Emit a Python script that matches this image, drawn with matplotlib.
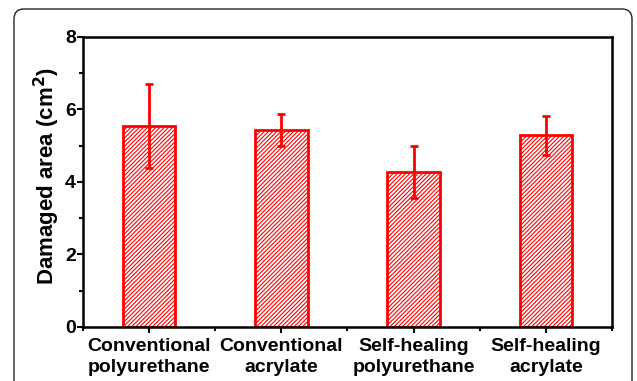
import matplotlib.pyplot as plt
import matplotlib.transforms as mtransforms
from matplotlib.patches import FancyBboxPatch
from matplotlib.ticker import MultipleLocator, FixedLocator

plt.rcParams['font.family'] = ['Liberation Sans', 'DejaVu Sans']
plt.rcParams['font.weight'] = 'bold'
plt.rcParams['hatch.linewidth'] = 0.8

# Damaged area for each coating (mean and standard deviation)
coatings = ["Conventional\npolyurethane", "Conventional\nacrylate",
            "Self-healing\npolyurethane", "Self-healing\nacrylate"]
damaged_area = [5.54, 5.43, 4.27, 5.29]
damaged_err = [1.15, 0.44, 0.71, 0.54]

fig = plt.figure(figsize=(6.37, 3.81), dpi=100)
ax = fig.add_axes([0.130, 0.142, 0.831, 0.761])

pos = list(range(1, len(coatings) + 1))
ax.bar(pos, damaged_area, width=0.4, facecolor='white', edgecolor='red',
       hatch='////////', linewidth=2, zorder=2)
ax.errorbar(pos, damaged_area, yerr=damaged_err, fmt='none', ecolor='red',
            elinewidth=2, capsize=3, capthick=2, zorder=3)

ax.set_xlim(0.5, 4.5)
ax.set_ylim(0, 8)
ax.set_xticks(pos)
ax.set_xticklabels(coatings, fontsize=14, fontweight='bold', linespacing=1.3)
ax.xaxis.set_minor_locator(FixedLocator([0.5, 1.5, 2.5, 3.5, 4.5]))
ax.yaxis.set_major_locator(MultipleLocator(2))
ax.yaxis.set_minor_locator(MultipleLocator(1))
ax.tick_params(axis='both', which='major', direction='out', length=4, width=1.5,
               labelsize=14)
ax.tick_params(axis='both', which='minor', direction='out', length=3, width=1.5)
ax.tick_params(axis='x', which='major', pad=4)
ax.tick_params(axis='y', which='major', pad=1)
for lab in ax.get_yticklabels():
    lab.set_fontweight('bold')
for side in ax.spines.values():
    side.set_linewidth(1.8)

ax.set_ylabel("Damaged area (cm$^\\mathbf{2}$)", fontsize=16, fontweight='bold',
              labelpad=0)
ax.yaxis.set_label_coords(-0.04, 0.52)

# rounded frame around the figure, open at the bottom
frame = FancyBboxPatch((14, -30), 618, 402, boxstyle="round,pad=0,rounding_size=10",
                       transform=mtransforms.IdentityTransform(),
                       facecolor='none', edgecolor='#222222', linewidth=1.0)
fig.add_artist(frame)

fig.savefig("out.png", dpi=100)
